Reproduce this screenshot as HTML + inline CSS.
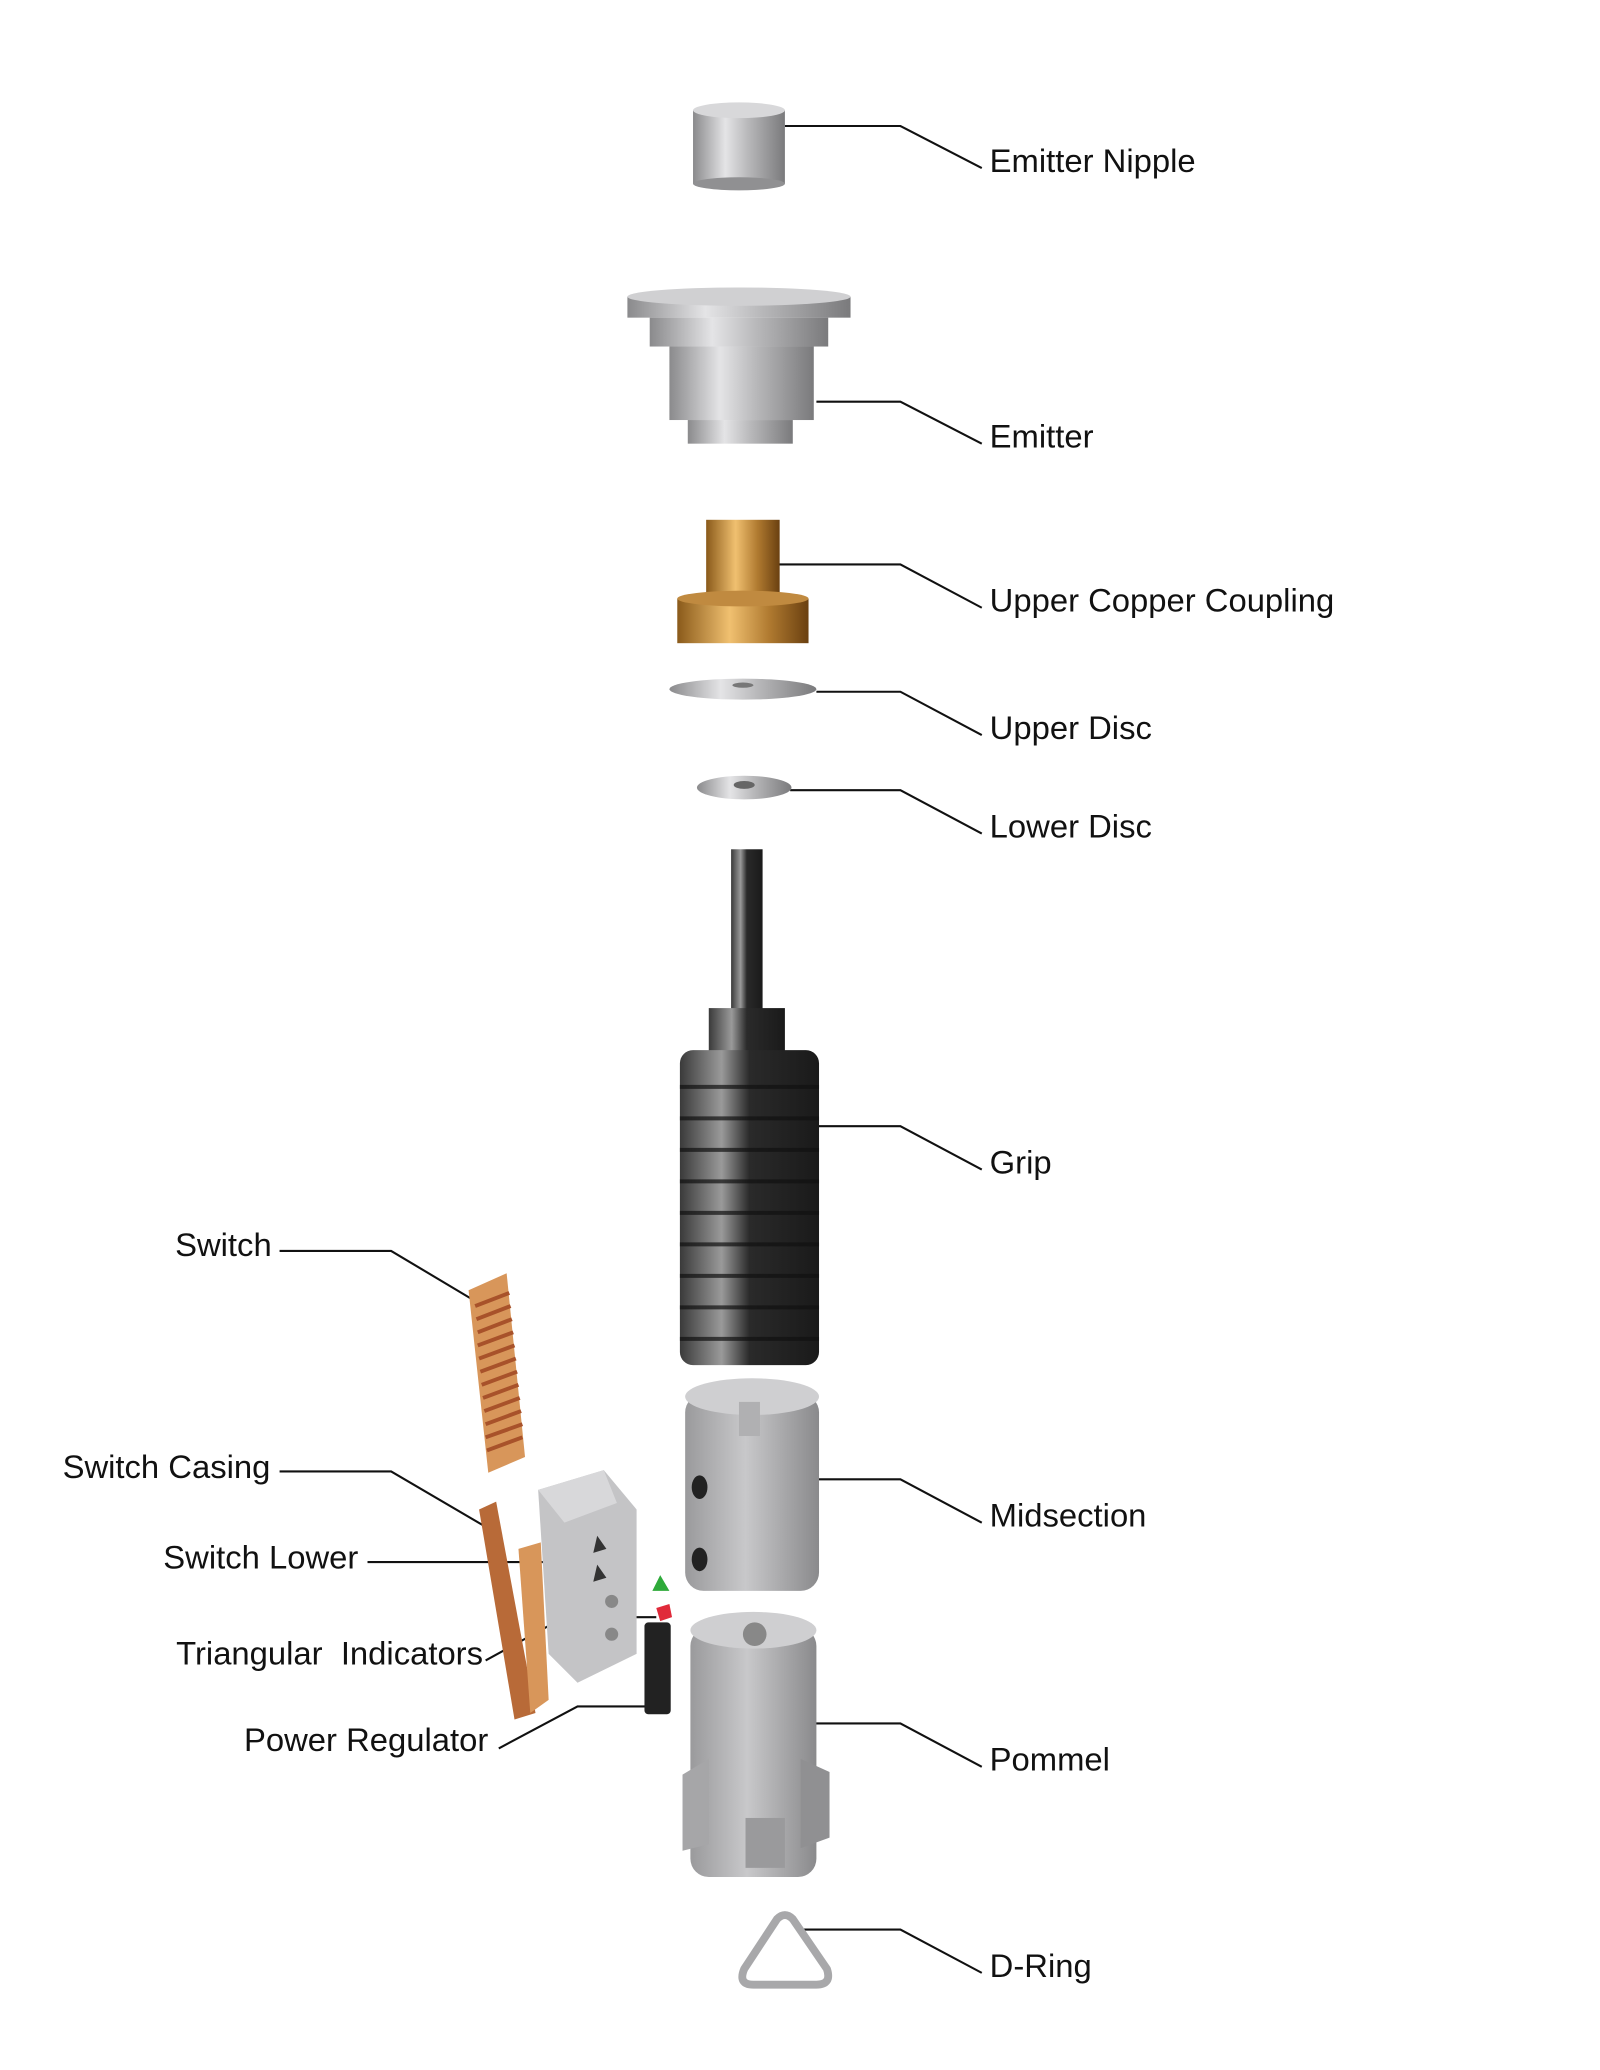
<!DOCTYPE html>
<html><head><meta charset="utf-8">
<style>
html,body{margin:0;padding:0;background:#fff;}
svg{display:block;}
text{font-family:"Liberation Sans",sans-serif;font-size:25px;fill:#111;}
</style></head>
<body>
<svg width="1600" height="2070" viewBox="0 0 1219 1577" preserveAspectRatio="none" xmlns="http://www.w3.org/2000/svg">
<defs>
<linearGradient id="m" x1="0" x2="1"><stop offset="0" stop-color="#8a8a8c"/><stop offset="0.35" stop-color="#e4e4e6"/><stop offset="0.6" stop-color="#b8b8ba"/><stop offset="1" stop-color="#7a7a7c"/></linearGradient>
<linearGradient id="c" x1="0" x2="1"><stop offset="0" stop-color="#8a5a1a"/><stop offset="0.4" stop-color="#f0c070"/><stop offset="0.7" stop-color="#b07a30"/><stop offset="1" stop-color="#6a4010"/></linearGradient>
<linearGradient id="k" x1="0" x2="1"><stop offset="0" stop-color="#3a3a3a"/><stop offset="0.3" stop-color="#9a9a9a"/><stop offset="0.5" stop-color="#2a2a2a"/><stop offset="1" stop-color="#1a1a1a"/></linearGradient>
<linearGradient id="g" x1="0" x2="1"><stop offset="0" stop-color="#9a9a9c"/><stop offset="0.45" stop-color="#c8c8ca"/><stop offset="1" stop-color="#8a8a8c"/></linearGradient>
</defs>
<g fill="none" stroke="#111" stroke-width="1.6">
<polyline points="598,96 686,96 748,128"/>
<polyline points="622,306 686,306 748,338"/>
<polyline points="585,430 686,430 748,463"/>
<polyline points="622,527 686,527 748,560"/>
<polyline points="602,602 686,602 748,635"/>
<polyline points="602,858 686,858 748,891"/>
<polyline points="602,1127 686,1127 748,1160"/>
<polyline points="602,1313 686,1313 748,1346"/>
<polyline points="612,1470 686,1470 748,1503"/>
<polyline points="213,953 298,953 360,990"/>
<polyline points="213,1121 298,1121 368,1162"/>
<polyline points="280,1190 418,1190 440,1225"/>
<polyline points="370,1265 430,1232 500,1232"/>
<polyline points="380,1332 440,1300 495,1300"/>
</g>
<text x="754" y="131">Emitter Nipple</text>
<text x="754" y="341">Emitter</text>
<text x="754" y="466">Upper Copper Coupling</text>
<text x="754" y="563">Upper Disc</text>
<text x="754" y="638">Lower Disc</text>
<text x="754" y="894">Grip</text>
<text x="754" y="1163">Midsection</text>
<text x="754" y="1349">Pommel</text>
<text x="754" y="1506">D-Ring</text>
<text x="207" y="957" text-anchor="end">Switch</text>
<text x="206" y="1126" text-anchor="end">Switch Casing</text>
<text x="273" y="1195" text-anchor="end">Switch Lower</text>
<text x="368" y="1268" text-anchor="end">Triangular&#160; Indicators</text>
<text x="372" y="1334" text-anchor="end">Power Regulator</text>
<rect x="528" y="84" width="70" height="56" fill="url(#m)"/>
<ellipse cx="563" cy="84" rx="35" ry="6" fill="#d8d8da"/>
<ellipse cx="563" cy="140" rx="35" ry="5" fill="#909092"/>
<rect x="478" y="226" width="170" height="16" fill="url(#m)"/>
<ellipse cx="563" cy="226" rx="85" ry="7" fill="#d0d0d2"/>
<rect x="495" y="242" width="136" height="22" fill="url(#m)"/>
<rect x="510" y="264" width="110" height="56" fill="url(#m)"/>
<rect x="524" y="320" width="80" height="18" fill="url(#m)"/>
<rect x="538" y="396" width="56" height="60" fill="url(#c)"/>
<rect x="516" y="456" width="100" height="34" fill="url(#c)"/>
<ellipse cx="566" cy="456" rx="50" ry="6" fill="#c08a40"/>
<ellipse cx="566" cy="525" rx="56" ry="8" fill="url(#m)"/>
<ellipse cx="566" cy="522" rx="8" ry="2" fill="#777"/>
<ellipse cx="567" cy="600" rx="36" ry="9" fill="url(#m)"/>
<ellipse cx="567" cy="598" rx="8" ry="3" fill="#666"/>
<rect x="557" y="647" width="24" height="125" fill="url(#k)"/>
<rect x="540" y="768" width="58" height="40" fill="url(#k)"/>
<rect x="518" y="800" width="106" height="240" rx="10" fill="url(#k)"/>
<g stroke="#111" stroke-width="3" opacity="0.7">
<line x1="518" y1="828" x2="624" y2="828"/><line x1="518" y1="852" x2="624" y2="852"/><line x1="518" y1="876" x2="624" y2="876"/><line x1="518" y1="900" x2="624" y2="900"/><line x1="518" y1="924" x2="624" y2="924"/><line x1="518" y1="948" x2="624" y2="948"/><line x1="518" y1="972" x2="624" y2="972"/><line x1="518" y1="996" x2="624" y2="996"/><line x1="518" y1="1020" x2="624" y2="1020"/>
</g>
<rect x="522" y="1062" width="102" height="150" rx="14" fill="url(#g)"/>
<ellipse cx="573" cy="1064" rx="51" ry="14" fill="#cfcfd1"/>
<rect x="563" y="1068" width="16" height="26" fill="#b0b0b2"/>
<ellipse cx="533" cy="1133" rx="6" ry="9" fill="#222"/>
<ellipse cx="533" cy="1188" rx="6" ry="9" fill="#222"/>
<rect x="526" y="1240" width="96" height="190" rx="14" fill="url(#g)"/>
<ellipse cx="574" cy="1242" rx="48" ry="14" fill="#cfcfd1"/>
<circle cx="575" cy="1245" r="9" fill="#888"/>
<polygon points="520,1352 540,1340 540,1405 520,1410" fill="#a6a6a8"/>
<polygon points="610,1340 632,1350 632,1400 610,1408" fill="#909092"/>
<rect x="568" y="1385" width="30" height="38" fill="#9a9a9c"/>
<path d="M592,1462 Q598,1456 604,1462 L630,1500 Q634,1512 622,1512 L574,1512 Q562,1512 567,1500 Z" fill="none" stroke="#a8a8aa" stroke-width="6" stroke-linejoin="round"/>
<polygon points="357,983 386,970 400,1110 372,1122" fill="#d8965a"/>
<g stroke="#a8522a" stroke-width="3"><line x1="362" y1="995" x2="388" y2="985"/><line x1="363" y1="1005" x2="389" y2="995"/><line x1="364" y1="1015" x2="390" y2="1005"/><line x1="364" y1="1025" x2="391" y2="1015"/><line x1="365" y1="1035" x2="392" y2="1025"/><line x1="366" y1="1045" x2="393" y2="1035"/><line x1="367" y1="1055" x2="394" y2="1045"/><line x1="368" y1="1065" x2="395" y2="1055"/><line x1="369" y1="1075" x2="396" y2="1065"/><line x1="370" y1="1085" x2="397" y2="1075"/><line x1="370" y1="1095" x2="398" y2="1085"/><line x1="371" y1="1105" x2="398" y2="1095"/></g>
<polygon points="365,1150 378,1144 408,1305 392,1310" fill="#b86a38"/>
<polygon points="395,1180 412,1175 418,1295 404,1305" fill="#d8965a"/>
<polygon points="410,1135 460,1120 485,1150 485,1260 440,1282 418,1260" fill="#c4c4c6"/>
<polygon points="410,1135 460,1120 470,1145 430,1160" fill="#d8d8da"/>
<polygon points="455,1170 462,1180 452,1183" fill="#333"/>
<polygon points="455,1192 462,1202 452,1205" fill="#333"/>
<circle cx="466" cy="1220" r="5" fill="#888"/>
<circle cx="466" cy="1245" r="5" fill="#888"/>
<polygon points="503,1200 510,1212 497,1212" fill="#2eaa3a"/>
<polygon points="500,1225 510,1222 512,1232 503,1235" fill="#e02a3a"/>
<rect x="491" y="1236" width="20" height="70" rx="3" fill="#222"/>
</svg>
</body></html>
